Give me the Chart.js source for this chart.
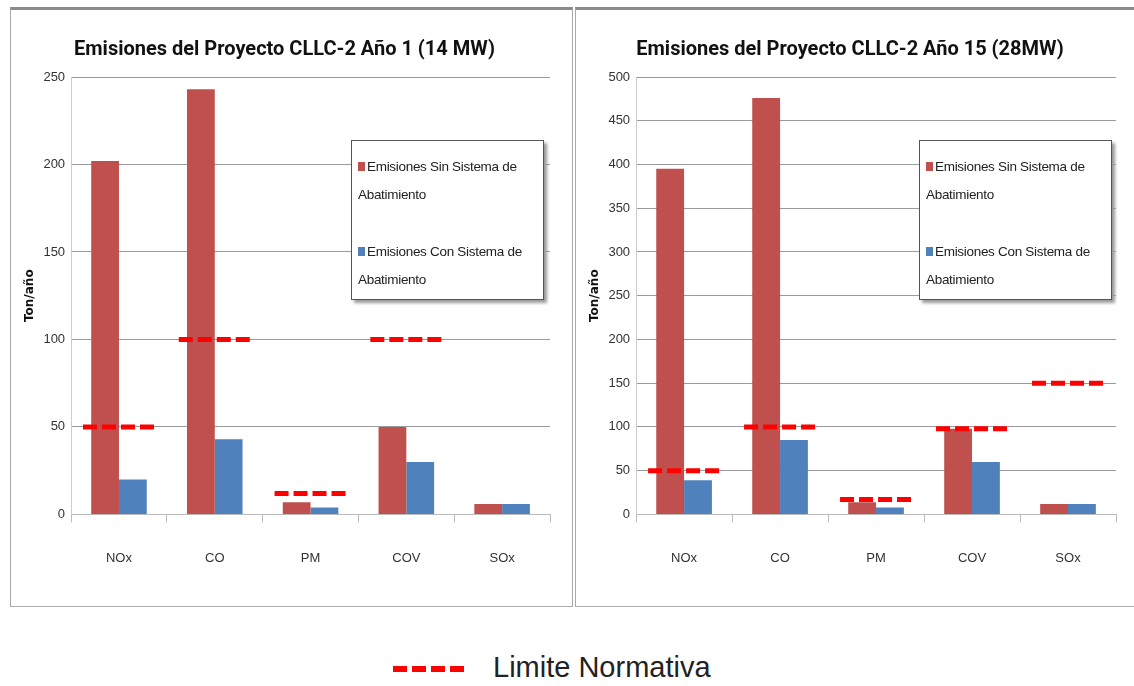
<!DOCTYPE html>
<html>
<head>
<meta charset="utf-8">
<script src="https://cdn.jsdelivr.net/npm/chart.js@4/dist/chart.umd.min.js"></script>
<style>
  body { margin: 0; background: #fff; width: 1134px; height: 686px; overflow: hidden; position: relative; font-family: "Liberation Sans", Arial, sans-serif; }
  .panel { position: absolute; top: 7px; height: 596px; border: 1px solid #aaa; border-top: 3px solid #8a8a8a; background: #fff; }
  .legend { position: absolute; width: 191px; height: 158px; border: 1px solid #555; background: #fff; box-shadow: 3px 3px 3px #9a9a9a; font-size: 13.5px; color: #222; letter-spacing: -0.3px; }
  .legend .item { position: absolute; left: 6px; line-height: 28px; }
  .legend .sw { display: inline-block; width: 7px; height: 9px; margin-right: 2px; }
  #bottomLegend { position: absolute; left: 393px; top: 651px; font-family: "Liberation Sans", Arial, sans-serif; font-size: 29px; color: #222; white-space: nowrap; }
  #bottomLegend .dash { display: inline-block; width: 14px; height: 6px; background: #ff0000; margin-right: 5px; vertical-align: middle; }
</style>
</head>
<body>
<div class="panel" id="leftPanel" style="left:10px; width:561px;">
  <canvas id="chartLeft" width="561" height="596"></canvas>
  <div class="legend" style="left:340px; top:130px;">
    <div class="item" style="top:12px;"><span class="sw" style="background:#C0504D"></span>Emisiones Sin Sistema de<br>Abatimiento</div>
    <div class="item" style="top:97px;"><span class="sw" style="background:#4F81BD"></span>Emisiones Con Sistema de<br>Abatimiento</div>
  </div>
</div>
<div class="panel" id="rightPanel" style="left:575px; width:570px;">
  <canvas id="chartRight" width="570" height="596"></canvas>
  <div class="legend" style="left:343px; top:130px;">
    <div class="item" style="top:12px;"><span class="sw" style="background:#C0504D"></span>Emisiones Sin Sistema de<br>Abatimiento</div>
    <div class="item" style="top:97px;"><span class="sw" style="background:#4F81BD"></span>Emisiones Con Sistema de<br>Abatimiento</div>
  </div>
</div>
<div id="bottomLegend"><span class="dash"></span><span class="dash"></span><span class="dash"></span><span class="dash"></span><span style="margin-left:24px">Limite Normativa</span></div>

<script>
const categories = ["NOx", "CO", "PM", "COV", "SOx"];
const seriesNames = ["Emisiones Sin Sistema de Abatimiento", "Emisiones Con Sistema de Abatimiento"];

// Año 1 (14 MW)
const sinAno1 = [202, 243, 7, 50, 6];
const conAno1 = [20, 43, 4, 30, 6];
const limiteAno1 = [50, 100, 12, 100, null];
const ticksAno1 = { max: 250, step: 50 };

// Año 15 (28 MW)
const sinAno15 = [395, 476, 14, 98, 12];
const conAno15 = [39, 85, 8, 60, 12];
const limiteAno15 = [50, 100, 17, 98, 150];
const ticksAno15 = { max: 500, step: 50 };

const RED = "#C0504D";
const BLUE = "#4F81BD";

// draws the red dashed "Limite Normativa" marks over each category
const limitPlugin = {
  id: "limitDashes",
  afterDatasetsDraw(chart, args, opts) {
    const ctx = chart.ctx;
    const x = chart.scales.x, y = chart.scales.y;
    ctx.save();
    ctx.strokeStyle = "#ff0000";
    ctx.lineWidth = 5;
    ctx.setLineDash([14, 5]);
    opts.values.forEach((v, i) => {
      if (v == null) return;
      const cx = x.getPixelForValue(i);
      const py = y.getPixelForValue(v);
      ctx.beginPath();
      ctx.moveTo(cx - 36, py);
      ctx.lineTo(cx + 35, py);
      ctx.stroke();
    });
    ctx.restore();
  }
};

function makeChart(id, title, sin, con, limite, ticks, padRight) {
  return new Chart(document.getElementById(id), {
    type: "bar",
    data: {
      labels: categories,
      datasets: [
        { label: seriesNames[0], data: sin, backgroundColor: RED },
        { label: seriesNames[1], data: con, backgroundColor: BLUE }
      ]
    },
    plugins: [limitPlugin],
    options: {
      responsive: false,
      animation: false,
      layout: { padding: { left: 8, right: padRight, top: 0, bottom: 12 } },
      datasets: { bar: { categoryPercentage: 0.58, barPercentage: 1.0 } },
      plugins: {
        legend: { display: false },
        tooltip: { enabled: false },
        title: {
          display: true,
          text: title,
          color: "#111",
          font: { family: "Roboto", size: 20, weight: "bold" },
          padding: { top: 28, bottom: 15 }
        },
        limitDashes: { values: limite }
      },
      scales: {
        x: {
          grid: { drawOnChartArea: false, drawTicks: true, tickLength: 8, color: "#bbb" },
          border: { color: "#bbb" },
          ticks: { color: "#333", padding: 28, font: { family: "Liberation Sans", size: 13 } }
        },
        y: {
          min: 0,
          max: ticks.max,
          ticks: { stepSize: ticks.step, color: "#333", padding: 6, font: { family: "Liberation Sans", size: 13 } },
          grid: { color: "#9a9a9a", drawTicks: false },
          border: { color: "#ccc" },
          title: {
            display: true,
            text: "Ton/año",
            color: "#111",
            font: { family: "DejaVu Sans", size: 12, weight: "bold" },
            padding: { bottom: 0 }
          }
        }
      }
    }
  });
}

makeChart("chartLeft", "Emisiones del Proyecto CLLC-2 Año 1 (14 MW)", sinAno1, conAno1, limiteAno1, ticksAno1, 22);
makeChart("chartRight", "Emisiones del Proyecto CLLC-2 Año 15 (28MW)", sinAno15, conAno15, limiteAno15, ticksAno15, 30);
</script>
</body>
</html>
